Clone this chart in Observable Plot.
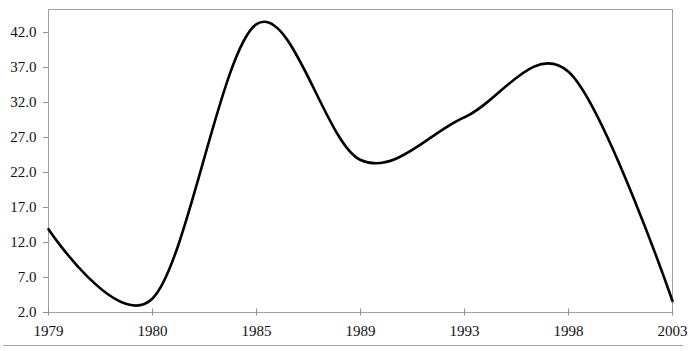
<!DOCTYPE html>
<html>
<head>
<meta charset="utf-8">
<script src="https://cdn.jsdelivr.net/npm/d3@7"></script>
<script src="https://cdn.jsdelivr.net/npm/@observablehq/plot@0.6"></script>
<style>
  html, body { margin: 0; padding: 0; background: #fff; }
  #wrap { position: relative; width: 693px; height: 351px; }
  #rule { position: absolute; left: 3px; top: 345px; width: 680px; height: 1px; background: #a8a8a8; }
</style>
</head>
<body>
<div id="wrap"><div id="rule"></div></div>
<script>
const years = ["1979", "1980", "1985", "1989", "1993", "1998", "2003"];
const values = [13.9, 4.0, 43.2, 23.8, 29.9, 36.4, 3.65];
const yTicks = [2, 7, 12, 17, 22, 27, 32, 37, 42];

const data = years.map((y, i) => ({year: y, value: values[i]}));
const serif = "'Liberation Serif', 'DejaVu Serif', serif";

const chart = Plot.plot({
  width: 693,
  height: 351,
  marginLeft: 48,
  marginRight: 21,
  marginTop: 9,
  marginBottom: 39,
  style: {color: "#111", background: "transparent"},
  x: {type: "point", domain: years, padding: 0},
  y: {domain: [2, 45.3]},
  marks: [
    Plot.frame({stroke: "#a0a0a0", strokeWidth: 1}),
    Plot.axisY({ticks: yTicks, tickFormat: d => d.toFixed(1), tickSize: 5, tickPadding: 7, stroke: "#909090", strokeOpacity: 1, label: null}),
    Plot.axisX({tickSize: 7, dy: -3.5, tickPadding: 9, stroke: "#909090", strokeOpacity: 1, label: null}),
    Plot.line(data, {x: "year", y: "value", curve: "cardinal", stroke: "#000", strokeWidth: 2.6})
  ]
});
d3.select(chart).selectAll("text")
  .style("font-family", serif)
  .style("font-size", "15px");
d3.select(chart).selectAll("g").filter(function() { return this.getAttribute("font-size") || this.getAttribute("font-family"); })
  .attr("font-size", null).attr("font-family", null);
document.getElementById("wrap").prepend(chart);
</script>
</body>
</html>
